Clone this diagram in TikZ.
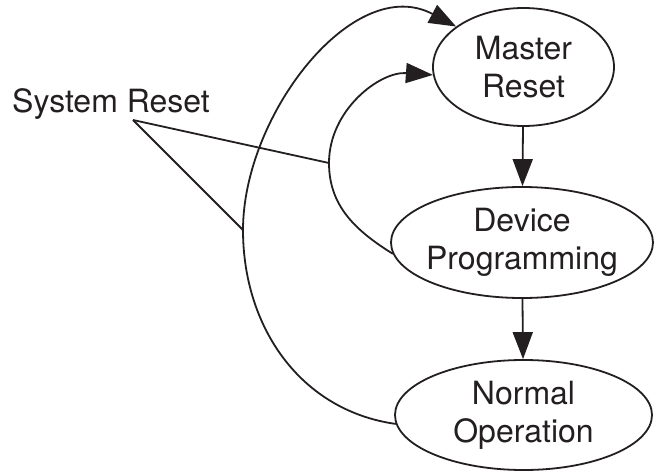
\documentclass[tikz,border=0pt]{standalone}
\usepackage{fontspec}
\setmainfont{TeX Gyre Heros}
\usetikzlibrary{arrows.meta,shapes.geometric}
\definecolor{ink}{RGB}{35,31,32}
\begin{document}
\begin{tikzpicture}[x=1pt,y=1pt,
  state/.style={ellipse, draw=ink, line width=1.8pt, text=ink, align=center,
    inner xsep=-5pt, inner ysep=0pt, font=\fontsize{32}{38}\selectfont},
  flow/.style={-{Triangle[length=27pt,width=20pt]}, draw=ink, line width=1.8pt},
  tag/.style={draw=ink, line width=1.8pt}]
\useasboundingbox (0,0) rectangle (656,-471);
\node[state, minimum width=181pt, minimum height=118pt] (master) at (523.5,-67) {Master\\Reset};
\node[state, minimum width=262pt, minimum height=111pt] (device) at (522,-242.5) {Device\\Programming};
\node[state, minimum width=257pt, minimum height=110pt] (normal) at (523.5,-415) {Normal\\Operation};
\node[text=ink, anchor=base west, inner sep=0pt, font=\fontsize{32}{38}\selectfont] (sysreset) at (12,-112) {System Reset};
\coordinate (fork) at (133,-120);
\coordinate (innerhit) at (329,-163);
\coordinate (outerhit) at (243,-230);
\draw[flow] (master) -- (device);
\draw[flow] (device) -- (normal);
\draw[flow] (device.185) to[out=148, in=-90] (innerhit) to[out=90, in=176] (master.185);
\draw[flow] (normal.184) to[out=172, in=-90] (outerhit) to[out=90, in=152] (master.149);
\draw[tag] (fork) -- (innerhit);
\draw[tag] (fork) -- (outerhit);
%\draw[tag] (fork) -- (sysreset.south);
\end{tikzpicture}
\end{document}
